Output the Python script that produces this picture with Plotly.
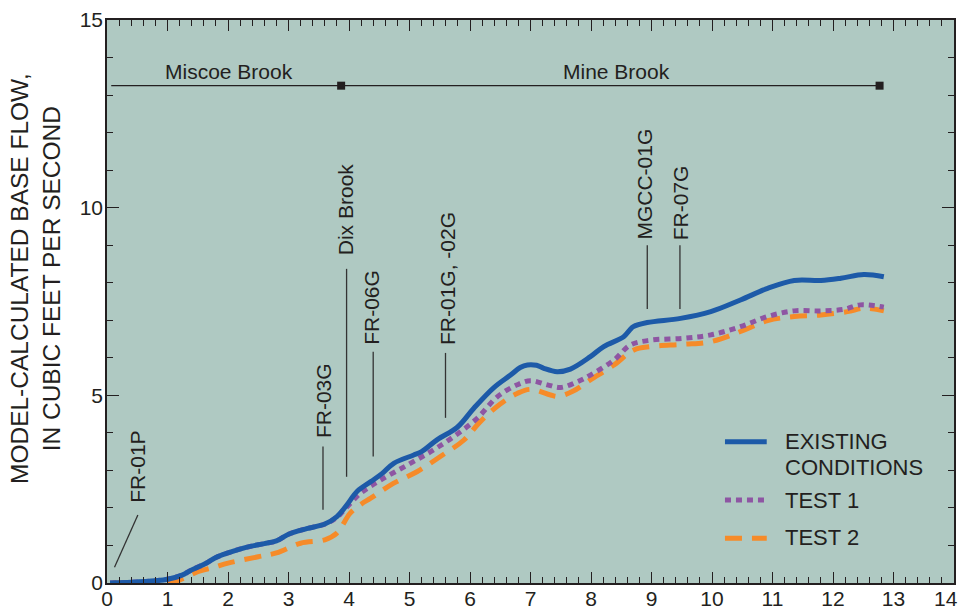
import plotly.graph_objects as go

# ---------------- data ----------------
x_existing = [0.05, 0.4, 0.8, 1.0, 1.24, 1.4, 1.63, 1.8, 2.0, 2.3, 2.6, 2.8, 3.0, 3.3, 3.6, 3.8,
              3.95, 4.14, 4.36, 4.55, 4.74, 5.07, 5.2, 5.46, 5.79, 6.06, 6.39, 6.67, 6.83, 6.95,
              7.1, 7.22, 7.44, 7.66, 7.99, 8.21, 8.54, 8.63, 8.7, 8.93, 9.48, 9.98, 10.47, 10.92,
              11.36, 11.8, 12.13, 12.51, 12.84]
y_existing = [0.0, 0.02, 0.06, 0.1, 0.21, 0.35, 0.52, 0.68, 0.8, 0.95, 1.05, 1.12, 1.3, 1.45, 1.57, 1.77,
              2.05, 2.45, 2.7, 2.92, 3.19, 3.41, 3.5, 3.82, 4.15, 4.65, 5.2, 5.54, 5.74, 5.81,
              5.8, 5.72, 5.63, 5.7, 6.03, 6.3, 6.56, 6.72, 6.83, 6.94, 7.05, 7.23, 7.54, 7.85,
              8.06, 8.06, 8.12, 8.22, 8.16]

x_test1 = [0.05, 0.4, 0.8, 1.0, 1.24, 1.4, 1.63, 1.8, 2.0, 2.3, 2.6, 2.8, 3.0, 3.3, 3.6, 3.8,
           3.95, 4.19, 4.52, 4.96, 5.35, 5.73, 6.12, 6.45, 6.78, 7.0, 7.28, 7.5, 7.77, 7.99,
           8.38, 8.65, 8.99, 9.53, 9.98, 10.47, 10.92, 11.36, 11.8, 12.18, 12.45, 12.84]
y_test1 = [0.0, 0.02, 0.06, 0.1, 0.21, 0.35, 0.52, 0.68, 0.8, 0.95, 1.05, 1.12, 1.3, 1.45, 1.57, 1.75,
           2.0, 2.39, 2.74, 3.14, 3.5, 3.9, 4.39, 4.96, 5.28, 5.39, 5.28, 5.21, 5.36, 5.54,
           5.94, 6.34, 6.47, 6.52, 6.61, 6.83, 7.1, 7.25, 7.25, 7.29, 7.41, 7.35]

x_test2 = [0.1, 0.5, 0.9, 1.2, 1.5, 1.77, 2.0, 2.5, 2.8, 3.2, 3.6, 3.8, 4.02, 4.2, 4.36, 4.74,
           5.13, 5.51, 5.9, 6.17, 6.5, 6.78, 7.0, 7.33, 7.45, 7.69, 7.99, 8.38, 8.71, 8.99,
           9.53, 9.98, 10.47, 10.92, 11.36, 11.8, 12.24, 12.51, 12.84]
y_test2 = [0.0, 0.0, 0.0, 0.08, 0.3, 0.42, 0.53, 0.7, 0.8, 1.06, 1.15, 1.33, 1.86, 2.1, 2.26, 2.66,
           2.97, 3.37, 3.81, 4.3, 4.77, 5.05, 5.16, 5.01, 4.97, 5.1, 5.41, 5.81, 6.21, 6.3,
           6.36, 6.43, 6.7, 6.99, 7.1, 7.14, 7.23, 7.32, 7.25]

series_names = ["EXISTING CONDITIONS", "TEST 1", "TEST 2"]
series_colors = ["#1d5aa8", "#8e55a3", "#f68b29"]

# observation-site labels (x in miles, lines drawn between y0 and y1)
site_labels = ["FR-01P", "FR-03G", "Dix Brook", "FR-06G", "FR-01G, -02G", "MGCC-01G", "FR-07G"]
site_label_x = [0.51, 3.58, 3.94, 4.37, 5.63, 8.88, 9.47]
site_label_y = [2.08, 3.81, 8.69, 6.29, 6.29, 9.09, 9.09]
site_line_x0 = [0.124, 3.57, 3.96, 4.40, 5.595, 8.93, 9.47]
site_line_x1 = [0.51, 3.57, 3.96, 4.40, 5.595, 8.93, 9.47]
site_line_y0 = [0.42, 1.95, 2.83, 3.37, 4.40, 7.30, 7.30]
site_line_y1 = [1.81, 3.64, 8.37, 6.16, 6.13, 9.00, 9.00]

# brook reaches
reach_names = ["Miscoe Brook", "Mine Brook"]
reach_label_x = [2.02, 8.42]
reach_label_y = 13.64
reach_x = [0.07, 3.87, 12.77]
reach_y = 13.25

x_ticks = list(range(0, 15))
x_tick_labels = [str(v) for v in x_ticks]
y_ticks = [0, 5, 10, 15]

FONT = "Liberation Sans, Arial, Helvetica, sans-serif"
TXT = "#231f20"

fig = go.Figure()

fig.add_trace(go.Scatter(x=x_test2, y=y_test2, mode="lines", name=series_names[2],
                         line=dict(color=series_colors[2], width=5, dash="17px,10px",
                                   shape="spline", smoothing=1.0),
                         showlegend=False))
fig.add_trace(go.Scatter(x=x_test1, y=y_test1, mode="lines", name=series_names[1],
                         line=dict(color=series_colors[1], width=5, dash="6px,5px",
                                   shape="spline", smoothing=1.0),
                         showlegend=False))
fig.add_trace(go.Scatter(x=x_existing, y=y_existing, mode="lines", name=series_names[0],
                         line=dict(color=series_colors[0], width=5,
                                   shape="spline", smoothing=1.0),
                         showlegend=False))

# reach line with square markers
fig.add_trace(go.Scatter(x=[reach_x[0], reach_x[2]], y=[reach_y, reach_y], mode="lines",
                         line=dict(color=TXT, width=1.3), showlegend=False, hoverinfo="skip"))
fig.add_trace(go.Scatter(x=reach_x[1:], y=[reach_y, reach_y], mode="markers",
                         marker=dict(symbol="square", size=8, color=TXT), showlegend=False,
                         hoverinfo="skip"))

annotations = []
shapes = []

for name, lx in zip(reach_names, reach_label_x):
    annotations.append(dict(x=lx, y=reach_label_y, xref="x", yref="y", text=name,
                            showarrow=False, xanchor="center", yanchor="middle",
                            font=dict(family=FONT, size=21, color=TXT)))

for i, lab in enumerate(site_labels):
    annotations.append(dict(x=site_label_x[i], y=site_label_y[i], xref="x", yref="y",
                            text=lab, textangle=-90, showarrow=False,
                            xanchor="center", yanchor="bottom",
                            font=dict(family=FONT, size=21, color=TXT)))
    shapes.append(dict(type="line", xref="x", yref="y",
                       x0=site_line_x0[i], x1=site_line_x1[i],
                       y0=site_line_y0[i], y1=site_line_y1[i],
                       line=dict(color="#333333", width=1.3)))

# last x tick label, nudged left so it stays inside the page
annotations.append(dict(x=x_ticks[-1], y=0, xref="x", yref="paper", text=x_tick_labels[-1],
                        showarrow=False, xanchor="right", yanchor="top",
                        xshift=5, yshift=-3, borderpad=0,
                        font=dict(family=FONT, size=21, color=TXT)))

# y-axis title
annotations.append(dict(x=-0.0838, y=0.54, xref="paper", yref="paper",
                        text="MODEL-CALCULATED BASE FLOW,<br>IN CUBIC FEET PER SECOND",
                        textangle=-90, showarrow=False, xanchor="center", yanchor="middle",
                        font=dict(family=FONT, size=24.5, color=TXT)))

# legend (manual)
leg_x0, leg_x1, leg_tx = 0.7296, 0.7789, 0.798
leg_y = [0.251, 0.1474, 0.0794]
leg_dash = ["solid", "6px,5px", "17px,10px"]
for j in range(3):
    shapes.append(dict(type="line", xref="paper", yref="paper", x0=leg_x0, x1=leg_x1,
                       y0=leg_y[j], y1=leg_y[j],
                       line=dict(color=series_colors[j], width=5, dash=leg_dash[j])))
leg_text = [("EXISTING", 0.252), ("CONDITIONS", 0.206), ("TEST 1", 0.146), ("TEST 2", 0.081)]
for t, yy in leg_text:
    annotations.append(dict(x=leg_tx, y=yy, xref="paper", yref="paper", text=t,
                            showarrow=False, xanchor="left", yanchor="middle",
                            font=dict(family=FONT, size=22, color=TXT)))

axis_common = dict(showgrid=False, zeroline=False, showline=True, linecolor="#231f20",
                   linewidth=1.5, ticks="inside", tickcolor="#231f20", tickwidth=1,
                   mirror="allticks", automargin=False, ticklabeloverflow="allow",
                   tickfont=dict(family=FONT, size=21, color=TXT))

fig.update_xaxes(range=[0, 14], tickvals=x_ticks, ticktext=x_tick_labels[:-1] + [""],
                 ticklen=11, ticklabelstandoff=-4,
                 minor=dict(dtick=0.2, ticklen=6, ticks="inside", tickcolor="#231f20", tickwidth=1),
                 **axis_common)
fig.update_yaxes(range=[0, 15], tickvals=y_ticks, ticklen=12, ticklabelstandoff=-2,
                 minor=dict(dtick=1, ticklen=6, ticks="inside", tickcolor="#231f20", tickwidth=1),
                 **axis_common)

fig.update_layout(width=961, height=609,
                  margin=dict(l=107, r=7, t=20, b=26, pad=0, autoexpand=False),
                  plot_bgcolor="#afc9c2", paper_bgcolor="white",
                  annotations=annotations, shapes=shapes,
                  font=dict(family=FONT, color=TXT))

fig.write_html("out.html")
